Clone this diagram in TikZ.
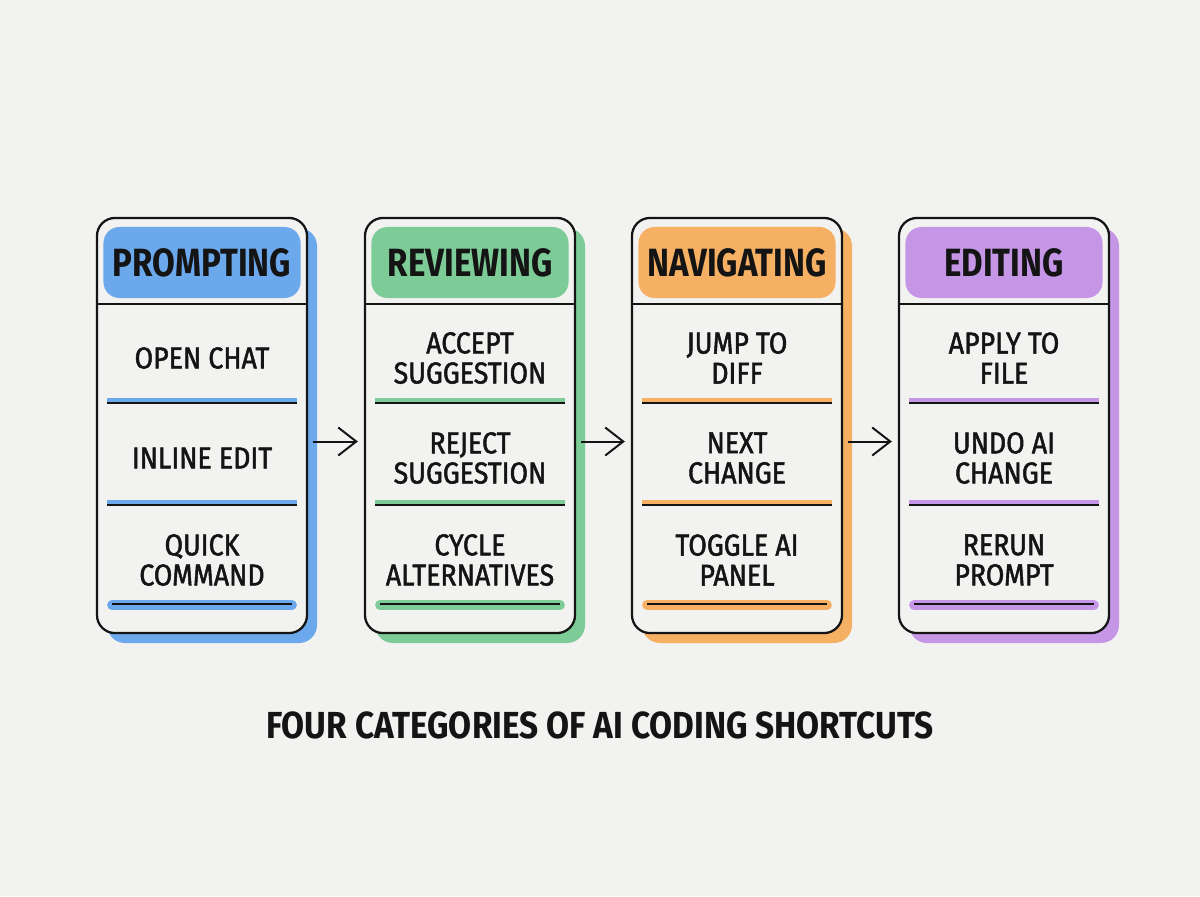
\documentclass[tikz,border=0pt]{standalone}
\usepackage{fontspec}
\setmainfont{Fira Sans}[FakeStretch=0.84]
\newfontfamily\itemfont{Fira Sans}[FakeStretch=0.885,FakeBold=1.6]
\newfontfamily\titlefont{Fira Sans}[FakeStretch=0.885]
\usetikzlibrary{arrows.meta}

\definecolor{bg}{RGB}{242,242,240}
\definecolor{ink}{RGB}{20,20,20}
\definecolor{cblue}{RGB}{108,168,236}
\definecolor{cgreen}{RGB}{125,203,150}
\definecolor{corange}{RGB}{246,176,100}
\definecolor{cpurple}{RGB}{198,150,230}

\tikzset{
  card/.style={draw=ink, line width=1.6pt, fill=bg, rounded corners=0.45cm,
    minimum width=5.25cm, minimum height=10.375cm},
  head/.style={rounded corners=0.4cm, minimum width=4.925cm, minimum height=1.775cm,
    text=ink, font=\bfseries\fontsize{28}{28}\selectfont},
  item/.style={align=center, text=ink, font=\itemfont\fontsize{21.5}{21.4}\selectfont},
  sep/.style={ink, line width=1.3pt},
  mark line/.style={line width=3pt},
  band/.style={line width=7pt, line cap=round},
  arr/.style={-{Straight Barb[length=0.45cm,width=0.7cm]}, ink, line width=1.4pt,
    shorten <=0.125cm, shorten >=0.15cm}
}

\begin{document}
\begin{tikzpicture}[x=0.025cm,y=-0.025cm]
\fill[bg] (0,0) rectangle (1200,896);
\useasboundingbox (0,0) rectangle (1200,896);

%第一列
\fill[cblue, rounded corners=0.45cm] (107,228) rectangle (317,643);
\node[card] (c1) at (202,425.5) {};
\node[head, fill=cblue] (h1) at (202,262.5) {PROMPTING};
\draw[sep] (c1.west |- 0,304) -- (c1.east |- 0,304);
\node[item] (a1) at (202,358) {OPEN CHAT};
\draw[cblue, mark line] (107,400) -- (297,400);
\draw[sep] (107,403) -- (297,403);
\node[item] (b1) at (202,458) {INLINE EDIT};
\draw[cblue, mark line] (107,502) -- (297,502);
\draw[sep] (107,505) -- (297,505);
\node[item] (d1) at (202,560) {QUICK\\COMMAND};
\draw[cblue, band] (112,605) -- (292,605);
\draw[sep] (112,604) -- (292,604);

%第二列
\fill[cgreen, rounded corners=0.45cm] (375,228) rectangle (585,643);
\node[card] (c2) at (470,425.5) {};
\node[head, fill=cgreen] (h2) at (470,262.5) {REVIEWING};
\draw[sep] (c2.west |- 0,304) -- (c2.east |- 0,304);
\node[item] (a2) at (470,358) {ACCEPT\\SUGGESTION};
\draw[cgreen, mark line] (375,400) -- (565,400);
\draw[sep] (375,403) -- (565,403);
\node[item] (b2) at (470,458) {REJECT\\SUGGESTION};
\draw[cgreen, mark line] (375,502) -- (565,502);
\draw[sep] (375,505) -- (565,505);
\node[item] (d2) at (470,560) {CYCLE\\ALTERNATIVES};
\draw[cgreen, band] (380,605) -- (560,605);
\draw[sep] (380,604) -- (560,604);

%第三列
\fill[corange, rounded corners=0.45cm] (642,228) rectangle (852,643);
\node[card] (c3) at (737,425.5) {};
\node[head, fill=corange] (h3) at (737,262.5) {NAVIGATING};
\draw[sep] (c3.west |- 0,304) -- (c3.east |- 0,304);
\node[item] (a3) at (737,358) {JUMP TO\\DIFF};
\draw[corange, mark line] (642,400) -- (832,400);
\draw[sep] (642,403) -- (832,403);
\node[item] (b3) at (737,458) {NEXT\\CHANGE};
\draw[corange, mark line] (642,502) -- (832,502);
\draw[sep] (642,505) -- (832,505);
\node[item] (d3) at (737,560) {TOGGLE AI\\PANEL};
\draw[corange, band] (647,605) -- (827,605);
\draw[sep] (647,604) -- (827,604);

%第四列
\fill[cpurple, rounded corners=0.45cm] (909,228) rectangle (1119,643);
\node[card] (c4) at (1004,425.5) {};
\node[head, fill=cpurple] (h4) at (1004,262.5) {EDITING};
\draw[sep] (c4.west |- 0,304) -- (c4.east |- 0,304);
\node[item] (a4) at (1004,358) {APPLY TO\\FILE};
\draw[cpurple, mark line] (909,400) -- (1099,400);
\draw[sep] (909,403) -- (1099,403);
\node[item] (b4) at (1004,458) {UNDO AI\\CHANGE};
\draw[cpurple, mark line] (909,502) -- (1099,502);
\draw[sep] (909,505) -- (1099,505);
\node[item] (d4) at (1004,560) {RERUN\\PROMPT};
\draw[cpurple, band] (914,605) -- (1094,605);
\draw[sep] (914,604) -- (1094,604);

%箭头
\draw[arr] ([yshift=-0.4cm]c1.east) -- ([yshift=-0.4cm]c2.west);
\draw[arr] ([yshift=-0.4cm]c2.east) -- ([yshift=-0.4cm]c3.west);
\draw[arr] ([yshift=-0.4cm]c3.east) -- ([yshift=-0.4cm]c4.west);

%标题
\node[text=ink, font=\titlefont\bfseries\fontsize{26.8}{26.8}\selectfont] (title) at (600,725)
  {FOUR CATEGORIES OF AI CODING SHORTCUTS};
\end{tikzpicture}
\end{document}
